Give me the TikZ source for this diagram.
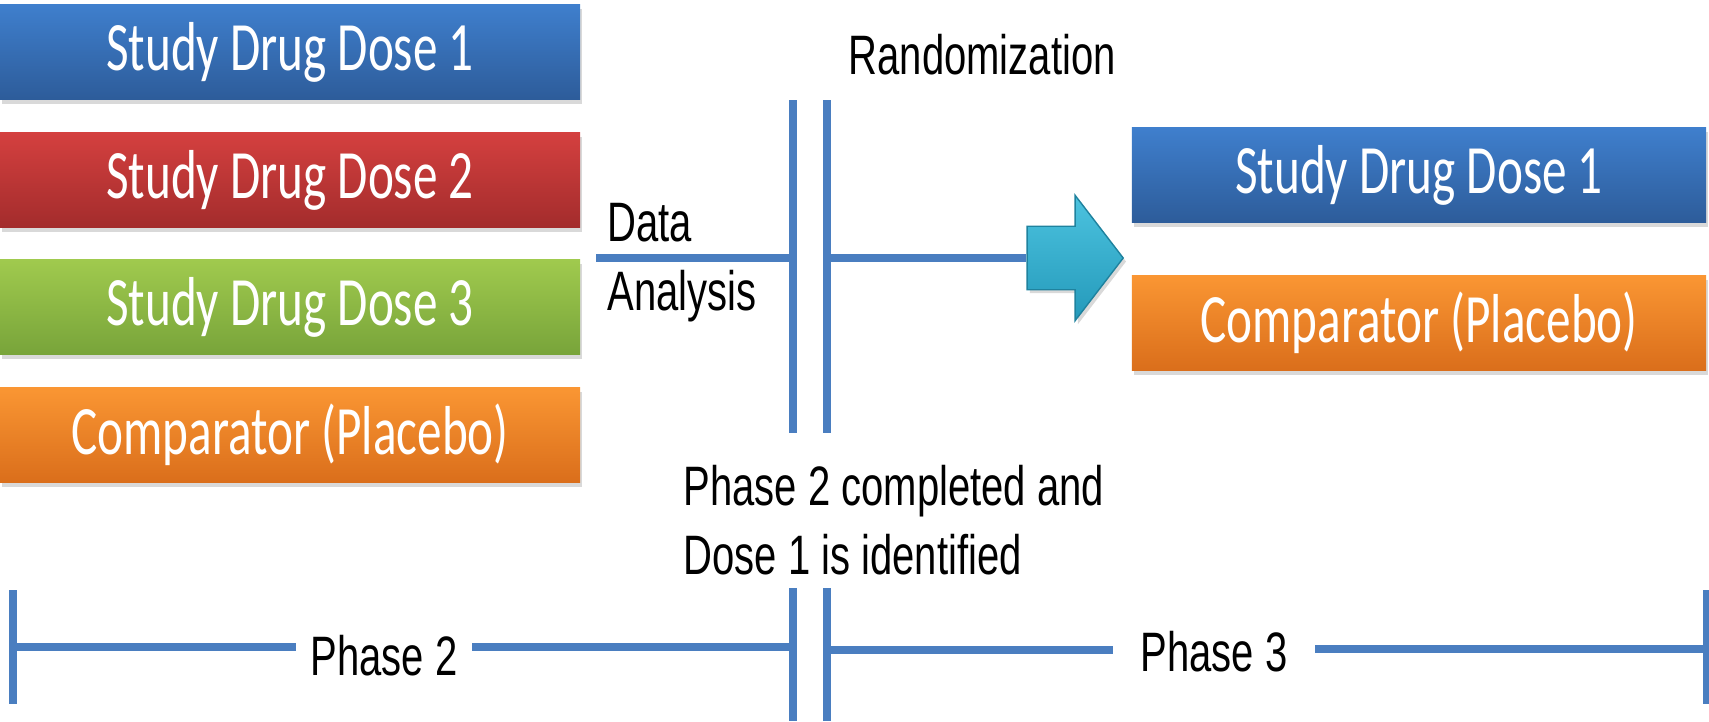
\documentclass[tikz,border=0pt]{standalone}
\usepackage{fontspec}
\setmainfont{Liberation Sans}[FakeStretch=0.72]
\newfontfamily\dosefont{Carlito}[FakeStretch=0.71]
\usepackage{tikz}
\usetikzlibrary{positioning,shapes.arrows,shadows}

\definecolor{lineblue}{HTML}{4A7EC0}
\definecolor{blueTop}{HTML}{3F7FCD}
\definecolor{blueBot}{HTML}{2D5C9A}
\definecolor{redTop}{HTML}{D4403F}
\definecolor{redBot}{HTML}{A32C2C}
\definecolor{greenTop}{HTML}{A0CA4E}
\definecolor{greenBot}{HTML}{78A43A}
\definecolor{orangeTop}{HTML}{FA9633}
\definecolor{orangeBot}{HTML}{DA6E1B}
\definecolor{arrowTop}{HTML}{4CC3DF}
\definecolor{arrowBot}{HTML}{2499BA}

\tikzset{
    dosebox/.style={minimum height=0.95cm, inner sep=0pt, outer sep=0pt, text=white,
        font=\dosefont\fontsize{19.7}{22}\selectfont,
        drop shadow={opacity=0.3, shadow xshift=0.6pt, shadow yshift=-1.2pt}},
    leftbox/.style={dosebox, minimum width=5.8cm},
    rightbox/.style={dosebox, minimum width=5.74cm},
    dblue/.style={top color=blueTop, bottom color=blueBot},
    dred/.style={top color=redTop, bottom color=redBot},
    dgreen/.style={top color=greenTop, bottom color=greenBot},
    dorange/.style={top color=orangeTop, bottom color=orangeBot},
    bar/.style={draw=lineblue, line width=2pt},
    note/.style={font=\fontsize{15.8}{19.5}\selectfont, inner sep=0pt, align=left},
    phase/.style={font=\fontsize{15.8}{19.5}\selectfont, inner ysep=0pt, inner xsep=0.14cm, anchor=base},
    randarrow/.style={single arrow, minimum height=0.96cm, minimum width=1.25cm,
        text height=0.31cm, text depth=0.31cm,
        single arrow head extend=0.31cm, single arrow tip angle=105, inner sep=0pt,
        top color=arrowTop, bottom color=arrowBot, draw=arrowBot!85!black, line width=0.4pt,
        drop shadow={opacity=0.3, shadow xshift=0.8pt, shadow yshift=-1pt}},
}

\begin{document}
\begin{tikzpicture}[x=0.01cm, y=-0.01cm]
    \useasboundingbox (0,0) rectangle (1709,721);

    % phase 2 arms
    \node[leftbox, dblue] (d1) at (290,52) {Study Drug Dose 1};
    \node[leftbox, dred, below=0.33cm of d1] (d2) {Study Drug Dose 2};
    \node[leftbox, dgreen, below=0.32cm of d2] (d3) {Study Drug Dose 3};
    \node[leftbox, dorange, below=0.33cm of d3] (d4) {Comparator (Placebo)};

    % phase 3 arms
    \node[rightbox, dblue] (r1) at (1419,175) {Study Drug Dose 1};
    \node[rightbox, dorange, below=0.53cm of r1] (r2) {Comparator (Placebo)};

    % labels
    \node[note, anchor=base west] (rand) at (848,74) {Randomization};
    \node[note, anchor=north west] (ana) at (607,203) {Data\\Analysis};
    \node[note, anchor=north west] (done) at (683,465) {Phase 2 completed and\\Dose 1 is identified};

    % double separator
    \foreach \x in {793,827} {
        \draw[bar] (\x,100) -- (\x,433);
        \draw[bar] (\x,588) -- (\x,721);
    }
    \coordinate (da) at (596,258);
    \coordinate (s1) at (793,258);
    \coordinate (s2) at (827,258);
    \node[randarrow] (arr) at (1063,258) {};
    \draw[bar] (da) -- (s1);
    \draw[bar] (s2) -- (arr.tail);

    % timeline
    \coordinate (tl) at (13,647);
    \coordinate (tr) at (1706,649);
    \coordinate (m1) at (793,647);
    \coordinate (m2) at (827,650);
    \draw[bar] (13,590) -- (13,704);
    \draw[bar] (1706,590) -- (1706,704);
    \node[phase] (ph2) at (384,675) {Phase 2};
    \node[phase, inner xsep=0.27cm] (ph3) at (1214,671) {Phase 3};
    \draw[bar] (tl) -- (tl -| ph2.west);
    \draw[bar] (ph2.east |- tl) -- (m1);
    \draw[bar] (m2) -- (m2 -| ph3.west);
    \draw[bar] (ph3.east |- tr) -- (tr);
\end{tikzpicture}
\end{document}
